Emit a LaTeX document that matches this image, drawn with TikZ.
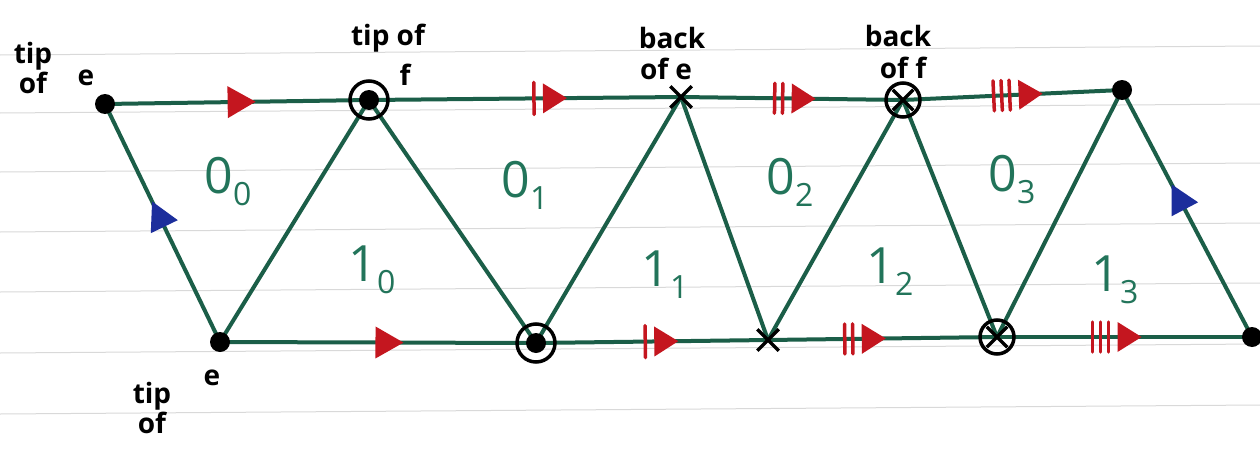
\documentclass[tikz,border=0pt]{standalone}
\usepackage{fontspec}
\setmainfont{Open Sans}
\usetikzlibrary{decorations.markings,shapes.misc}
\definecolor{edgegreen}{HTML}{1B5E48}
\definecolor{labgreen}{HTML}{22745A}
\definecolor{arrred}{HTML}{C4161F}
\definecolor{arrblue}{HTML}{1C2E9C}
\definecolor{ruleline}{HTML}{D9D9D9}
\newcommand{\facelab}[2]{{\fontsize{50}{52}\selectfont #1}\raisebox{-12pt}{\fontsize{32}{34}\selectfont #2}}
\tikzset{
  edge/.style={draw=edgegreen, line width=4pt, line cap=round},
  ra/.style={postaction={decorate}, decoration={markings, mark=at position #1 with {
     \fill[arrred] (-12pt,-16pt) -- (16pt,0pt) -- (-12pt,16pt) -- cycle;}}},
  rb/.style={postaction={decorate}, decoration={markings, mark=at position #1 with {
     \fill[arrred] (-7pt,-15pt) -- (17pt,0pt) -- (-7pt,15pt) -- cycle;
     \draw[arrred, line width=3.5pt] (-16pt,-16pt) -- (-16pt,16pt);}}},
  rc/.style={postaction={decorate}, decoration={markings, mark=at position #1 with {
     \fill[arrred] (-7pt,-15pt) -- (17pt,0pt) -- (-7pt,15pt) -- cycle;
     \draw[arrred, line width=3.5pt] (-16pt,-15pt) -- (-16pt,15pt);
     \draw[arrred, line width=3.5pt] (-24pt,-15pt) -- (-24pt,15pt);}}},
  rd/.style={postaction={decorate}, decoration={markings, mark=at position #1 with {
     \fill[arrred] (-7pt,-15pt) -- (17pt,0pt) -- (-7pt,15pt) -- cycle;
     \draw[arrred, line width=3.5pt] (-16pt,-15pt) -- (-16pt,15pt);
     \draw[arrred, line width=3.5pt] (-24pt,-15pt) -- (-24pt,15pt);
     \draw[arrred, line width=3.5pt] (-32pt,-15pt) -- (-32pt,15pt);}}},
  ba/.style={postaction={decorate}, decoration={markings, mark=at position #1 with {
     \fill[arrblue] (-12pt,-15pt) -- (16pt,0pt) -- (-12pt,15pt) -- cycle;}}},
  dotv/.style={circle, fill=black, inner sep=0pt, minimum size=20pt},
  ringv/.style={circle, draw=black, line width=3.5pt, inner sep=0pt, minimum size=38pt},
  crossv/.style={cross out, draw=black, line width=3.5pt, inner sep=0pt, minimum size=18pt},
  handtext/.style={text=black, font=\bfseries\fontsize{28}{25}\selectfont, align=center, inner sep=0pt},
  facetext/.style={text=labgreen, inner sep=0pt},
}
\begin{document}
\begin{tikzpicture}[x=1pt,y=-1pt]
\useasboundingbox (0,0) rectangle (1260,455);
\fill[white] (0,0) rectangle (1260,455);
% ruled paper
\foreach \yy in {-4,55,113,172,232,292,353,414}
  \draw[ruleline, line width=1pt] (0,\yy) -- (1260,\yy-9);

% vertices
\coordinate (T0) at (105,104);
\coordinate (T1) at (369,100);
\coordinate (T2) at (681,97);
\coordinate (T3) at (903,100);
\coordinate (T4) at (1122,90);
\coordinate (B0) at (220,342);
\coordinate (B1) at (536,343);
\coordinate (B2) at (768,340);
\coordinate (B3) at (997,337);
\coordinate (B4) at (1252,337);

% diagonals
\draw[edge] (T1) -- (B0);
\draw[edge] (T1) -- (B1);
\draw[edge] (T2) -- (B1);
\draw[edge] (T2) -- (B2);
\draw[edge] (T3) -- (B2);
\draw[edge] (T3) -- (B3);
\draw[edge] (T4) -- (B3);
\draw[edge, ba=0.53] (B0) -- (T0);
\draw[edge, ba=0.56] (B4) -- (T4);

% top row
\draw[edge, ra=0.51] (T0) -- (T1);
\draw[edge, rb=0.58] (T1) -- (T2);
\draw[edge, rc=0.53] (T2) -- (T3);
\draw[edge, rd=0.56] (T3) -- (T4);
% bottom row
\draw[edge, ra=0.53] (B0) -- (B1);
\draw[edge, rb=0.54] (B1) -- (B2);
\draw[edge, rc=0.44] (B2) -- (B3);
\draw[edge, rd=0.50] (B3) -- (B4);

% vertex markers
\node[dotv] (mT0) at (T0) {};
\node[dotv] (mT1) at (T1) {};
\node[ringv] (rT1) at (T1) {};
\node[crossv] (mT2) at (T2) {};
\node[ringv, minimum size=34pt] (rT3) at (T3) {};
\node[crossv, minimum size=17pt] (mT3) at (T3) {};
\node[dotv] (mT4) at (T4) {};
\node[dotv] (mB0) at (B0) {};
\node[dotv] (mB1) at (B1) {};
\node[ringv] (rB1) at (B1) {};
\node[crossv] (mB2) at (B2) {};
\node[ringv, minimum size=34pt] (rB3) at (B3) {};
\node[crossv, minimum size=17pt] (mB3) at (B3) {};
\node[dotv] (mB4) at (B4) {};

% black handwritten labels
\node[handtext] (l1) at (33,68) {tip\\of};
\node[handtext] (l2) at (86,78) {e};
\node[handtext] (l3) at (388,38) {tip of};
\node[handtext] (l4) at (405,75) {f};
\node[handtext] (l5) at (672,38) {back};
\node[handtext] (l6) at (666,69) {of e};
\node[handtext] (l7) at (898,36) {back};
\node[handtext] (l8) at (903,68) {of f};
\node[handtext] (l9) at (212,378) {e};
\node[handtext] (l10) at (152,408) {tip\\of};

% face labels
\node[facetext] (f00) at (228,182) {\facelab{0}{0}};
\node[facetext] (f01) at (525,185) {\facelab{0}{1}};
\node[facetext] (f02) at (790,182) {\facelab{0}{2}};
\node[facetext] (f03) at (1012,180) {\facelab{0}{3}};
\node[facetext] (f10) at (372,270) {\facelab{1}{0}};
\node[facetext] (f11) at (665,275) {\facelab{1}{1}};
\node[facetext] (f12) at (890,272) {\facelab{1}{2}};
\node[facetext] (f13) at (1115,280) {\facelab{1}{3}};
\end{tikzpicture}
\end{document}
